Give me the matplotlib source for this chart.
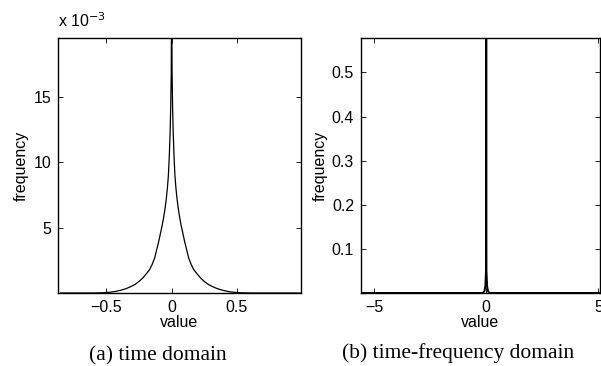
import matplotlib
matplotlib.use("Agg")
import matplotlib.pyplot as plt

plt.rcParams['font.family'] = ['Liberation Sans', 'DejaVu Sans']
plt.rcParams['axes.unicode_minus'] = True

# (a) time domain: density of values
time_x = [-0.85, -0.60, -0.52, -0.47, -0.43, -0.39, -0.35, -0.31, -0.28, -0.25,
          -0.22, -0.195, -0.17, -0.15, -0.13, -0.115, -0.10, -0.085, -0.072, -0.061,
          -0.050, -0.040, -0.032, -0.025, -0.018, -0.012, -0.007, -0.003, 0.0,
          0.003, 0.007, 0.012, 0.018, 0.025, 0.032, 0.040, 0.050, 0.061,
          0.072, 0.085, 0.10, 0.115, 0.13, 0.15, 0.17, 0.195, 0.22,
          0.25, 0.28, 0.31, 0.35, 0.39, 0.43, 0.47, 0.52, 0.60, 0.99]
time_y = [0.0, 0.0, 0.00002, 0.00006, 0.00012, 0.00021, 0.00033, 0.00050, 0.00066, 0.00088,
          0.00116, 0.00146, 0.00177, 0.00217, 0.00268, 0.0033, 0.0039, 0.0046, 0.0052, 0.0058,
          0.0065, 0.0073, 0.0081, 0.0090, 0.0105, 0.0122, 0.0143, 0.0170, 0.025,
          0.0170, 0.0143, 0.0122, 0.0105, 0.0090, 0.0081, 0.0073, 0.0065, 0.0058,
          0.0052, 0.0046, 0.0039, 0.0033, 0.00268, 0.00217, 0.00177, 0.00146, 0.00116,
          0.00088, 0.00066, 0.00050, 0.00033, 0.00021, 0.00012, 0.00006, 0.00002, 0.0, 0.0]

# (b) time-frequency domain: a single sharp spike at zero
tf_x = [-5.6, -0.15, -0.08, -0.04, -0.01, 0.0, 0.01, 0.04, 0.08, 0.15, 5.1]
tf_y = [0.0, 0.0, 0.004, 0.015, 0.05, 0.62, 0.05, 0.015, 0.004, 0.0, 0.0]

W, H = 601, 366
fig = plt.figure(figsize=(W / 100, H / 100), dpi=100)
FS = 11.5

def style(ax):
    ax.tick_params(direction='in', top=True, right=True, length=3.5, width=0.6,
                   labelsize=FS, pad=5)
    for s in ax.spines.values():
        s.set_linewidth(1.0)
    ax.set_xlabel('value', fontsize=FS, labelpad=0)
    ax.set_ylabel('frequency', fontsize=FS, labelpad=3)

ax1 = fig.add_axes([58 / W, 73 / H, 243 / W, 255 / H])
ax1.plot(time_x, time_y, color='black', lw=0.9)
ax1.set_xlim(-0.87, 0.99)
ax1.set_ylim(0, 0.0195)
ax1.set_xticks([-0.5, 0, 0.5])
ax1.set_xticklabels(['\u22120.5', '0', '0.5'])
ax1.set_yticks([0.005, 0.010, 0.015])
ax1.set_yticklabels(['5', '10', '15'])
style(ax1)
ax1.text(0.0, 1.03, r'x 10$^{-3}$', transform=ax1.transAxes, fontsize=FS,
         ha='left', va='bottom')

ax2 = fig.add_axes([361 / W, 73 / H, 239 / W, 255 / H])
ax2.plot(tf_x, tf_y, color='black', lw=1.4)
ax2.set_xlim(-5.58, 5.07)
ax2.set_ylim(0, 0.578)
ax2.set_xticks([-5, 0, 5])
ax2.set_xticklabels(['\u22125', '0', '5'])
ax2.set_yticks([0.1, 0.2, 0.3, 0.4, 0.5])
style(ax2)

fig.text(158 / W, 1 - 356 / H, '(a) time domain', family='Liberation Serif',
         fontsize=15.5, ha='center', va='center')
fig.text(458 / W, 1 - 353 / H, '(b) time-frequency domain', family='Liberation Serif',
         fontsize=15.5, ha='center', va='center')

fig.savefig('out.png', dpi=100)
